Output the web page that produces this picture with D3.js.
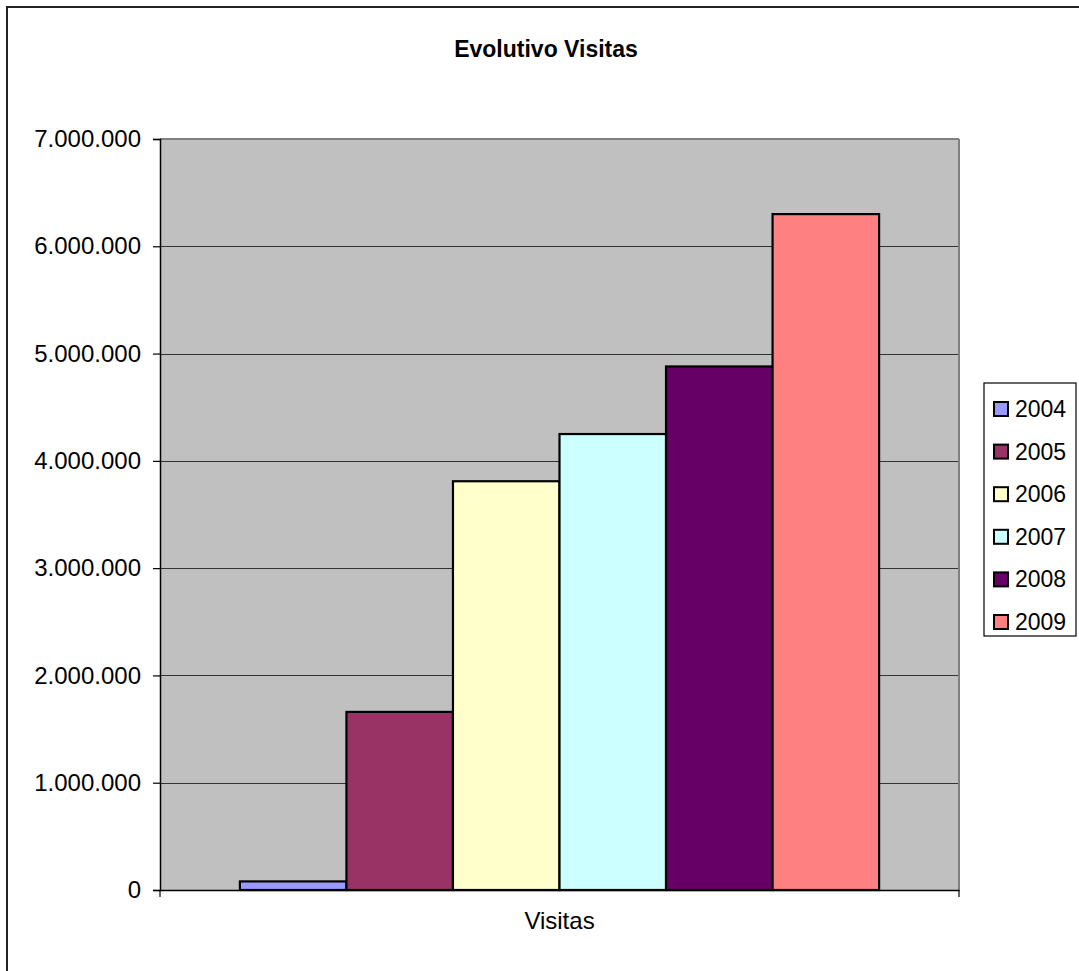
<!DOCTYPE html>
<html>
<head>
<meta charset="utf-8">
<script src="https://cdn.jsdelivr.net/npm/d3@7"></script>
<style>
  html, body { margin: 0; padding: 0; background: #fff; }
  svg { display: block; font-family: "Liberation Sans", Arial, sans-serif; }
</style>
</head>
<body>
<svg id="chart" width="1079" height="971"></svg>
<script>
const title = "Evolutivo Visitas";
const categories = ["Visitas"];
const years = ["2004", "2005", "2006", "2007", "2008", "2009"];
const visitas = [80000, 1660000, 3810000, 4250000, 4880000, 6300000];
const colors = ["#9999FF", "#993366", "#FFFFCC", "#CCFFFF", "#660066", "#FF8080"];
const yTicks = [0, 1000000, 2000000, 3000000, 4000000, 5000000, 6000000, 7000000];

const svg = d3.select("#chart");
const plot = { left: 160, right: 959, top: 139, bottom: 890 };

const locale = d3.formatLocale({ decimal: ",", thousands: ".", grouping: [3], currency: ["", "€"] });
const fmt = locale.format(",.0f");

// Outer chart frame (extends beyond the visible area on right/bottom)
svg.append("rect").attr("x", 7).attr("y", 7).attr("width", 1100).attr("height", 1000)
  .attr("fill", "#fff").attr("stroke", "#222").attr("stroke-width", 2);

// Title
svg.append("text").attr("x", 546).attr("y", 57).attr("text-anchor", "middle")
  .attr("font-size", 23).attr("font-weight", "bold").attr("fill", "#000").text(title);

const y = d3.scaleLinear().domain([0, 7000000]).range([plot.bottom, plot.top]);
const x0 = d3.scaleBand().domain(categories).range([plot.left, plot.right]).paddingOuter(0.125).paddingInner(0);
const x1 = d3.scaleBand().domain(years).range([0, x0.bandwidth()]).padding(0);

// Plot background
svg.append("rect").attr("x", plot.left).attr("y", plot.top)
  .attr("width", plot.right - plot.left).attr("height", plot.bottom - plot.top)
  .attr("fill", "#C0C0C0");

// Gridlines
svg.append("g").selectAll("line").data(yTicks.filter(d => d > 0 && d < 7000000)).join("line")
  .attr("x1", plot.left).attr("x2", plot.right)
  .attr("y1", d => Math.round(y(d)) + 0.5).attr("y2", d => Math.round(y(d)) + 0.5)
  .attr("stroke", "#333").attr("stroke-width", 1.2);

// Plot border (top/right gray)
svg.append("line").attr("x1", plot.left).attr("x2", plot.right).attr("y1", plot.top).attr("y2", plot.top)
  .attr("stroke", "#808080").attr("stroke-width", 2);
svg.append("line").attr("x1", plot.right).attr("x2", plot.right).attr("y1", plot.top).attr("y2", plot.bottom)
  .attr("stroke", "#808080").attr("stroke-width", 2);

// Bars
svg.append("g").selectAll("rect").data(years.map((yr, i) => ({ yr, v: visitas[i], c: colors[i] }))).join("rect")
  .attr("x", d => x0("Visitas") + x1(d.yr))
  .attr("y", d => y(d.v))
  .attr("width", x1.bandwidth())
  .attr("height", d => y(0) - y(d.v))
  .attr("fill", d => d.c)
  .attr("stroke", "#000").attr("stroke-width", 2.2);

// Y axis
const yAxis = d3.axisLeft(y).tickValues(yTicks).tickFormat(fmt).tickSize(7).tickPadding(12);
const gy = svg.append("g").attr("transform", `translate(${plot.left},0)`).call(yAxis);
gy.select(".domain").attr("stroke", "#000").attr("stroke-width", 1.5);
gy.selectAll(".tick line").attr("stroke", "#000").attr("stroke-width", 1.2);
gy.selectAll(".tick text").attr("font-size", 24).attr("fill", "#000")
  .attr("font-family", "'Liberation Sans', Arial, sans-serif");

// X axis
const xAxis = d3.axisBottom(x0).tickSize(0).tickPadding(22);
const gx = svg.append("g").attr("transform", `translate(0,${plot.bottom})`).call(xAxis);
gx.select(".domain").attr("stroke", "#000").attr("stroke-width", 1.5);
gx.selectAll(".tick text").attr("font-size", 24).attr("fill", "#000")
  .attr("font-family", "'Liberation Sans', Arial, sans-serif");
// end ticks on x axis
svg.append("g").selectAll("line").data([plot.left, plot.right]).join("line")
  .attr("x1", d => d).attr("x2", d => d).attr("y1", plot.bottom).attr("y2", plot.bottom + 7)
  .attr("stroke", "#000").attr("stroke-width", 1.2);

// Legend
const legend = svg.append("g");
legend.append("rect").attr("x", 984).attr("y", 383).attr("width", 92).attr("height", 253)
  .attr("fill", "#fff").attr("stroke", "#000").attr("stroke-width", 1.2);
const rowY = d3.scalePoint().domain(years).range([409, 622]);
const items = legend.selectAll("g.item").data(years.map((yr, i) => ({ yr, c: colors[i] }))).join("g")
  .attr("class", "item").attr("transform", d => `translate(0,${rowY(d.yr)})`);
items.append("rect").attr("x", 994).attr("y", -7).attr("width", 14).attr("height", 14)
  .attr("fill", d => d.c).attr("stroke", "#000").attr("stroke-width", 2);
items.append("text").attr("x", 1015).attr("y", 8).attr("font-size", 23).attr("fill", "#000")
  .text(d => d.yr);
</script>
</body>
</html>
